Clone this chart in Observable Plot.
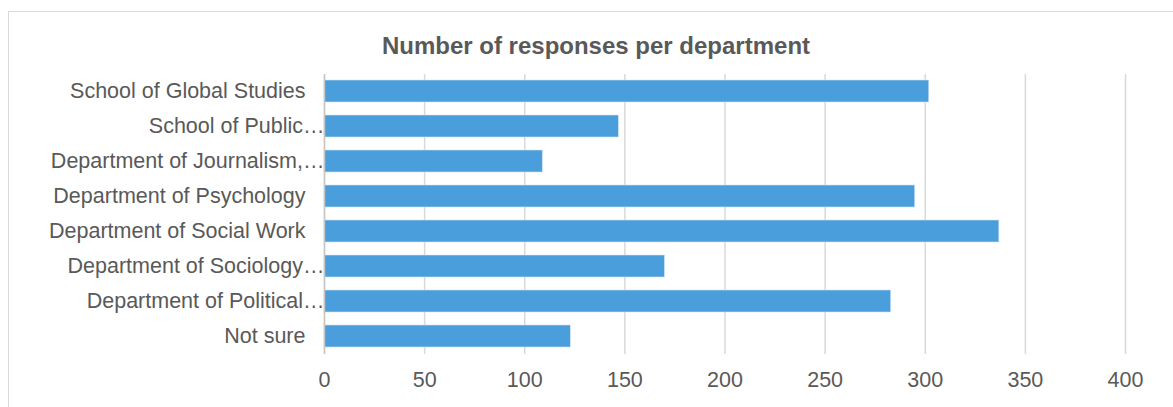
<!DOCTYPE html>
<html>
<head>
<meta charset="utf-8">
<script src="https://cdn.jsdelivr.net/npm/d3@7"></script>
<script src="https://cdn.jsdelivr.net/npm/@observablehq/plot@0.6"></script>
<style>
  html, body { margin: 0; padding: 0; background: #fff; }
  #wrap { position: relative; width: 1173px; height: 407px; overflow: hidden; font-family: "Liberation Sans", Arial, sans-serif; }
  #border { position: absolute; left: 8px; top: 11px; width: 1300px; height: 600px; border: 1px solid #d9d9d9; box-sizing: border-box; }
  #title { position: absolute; left: 0; top: 31px; width: 1192px; text-align: center; font-size: 24px; font-weight: bold; color: #595959; line-height: 29px; }
  #chart { position: absolute; left: 0; top: 0; }
</style>
</head>
<body>
<div id="wrap">
  <div id="border"></div>
  <div id="chart"></div>
  <div id="title">Number of responses per department</div>
</div>
<script>
const departments = [
  "School of Global Studies",
  "School of Public…",
  "Department of Journalism,…",
  "Department of Psychology",
  "Department of Social Work",
  "Department of Sociology…",
  "Department of Political…",
  "Not sure"
];
const responses = [302, 147, 109, 295, 337, 170, 283, 123];
const xTicks = [0, 50, 100, 150, 200, 250, 300, 350, 400];

const truncated = departments.filter(d => d.endsWith("…"));
const full = departments.filter(d => !d.endsWith("…"));
const data = departments.map((d, i) => ({department: d, responses: responses[i]}));

const chart = Plot.plot({
  width: 1173,
  height: 407,
  marginTop: 74,
  marginBottom: 53,
  marginLeft: 324,
  marginRight: 48,
  style: {fontFamily: '"Liberation Sans", Arial, sans-serif', fontSize: "21.5px", color: "#595959", background: "transparent"},
  x: {domain: [0, 400]},
  y: {domain: departments, paddingInner: 0.37, paddingOuter: 0.185},
  marks: [
    Plot.gridX(xTicks, {stroke: "#d9d9d9", strokeOpacity: 1, strokeWidth: 1.5}),
    Plot.barX(data, {x: "responses", y: "department", fill: "#4a9edb", stroke: "#cfe3f5", strokeWidth: 0.6}),
    Plot.ruleX([0], {stroke: "#c6c6c6", strokeWidth: 1.5}),
    Plot.axisX(xTicks, {tickSize: 0, tickPadding: 17, label: null, fill: "#595959", fontSize: 21.5}),
    Plot.axisY(full, {tickSize: 0, tickPadding: 19, label: null, fill: "#595959", fontSize: 21.5}),
    Plot.axisY(truncated, {tickSize: 0, tickPadding: 0, label: null, fill: "#595959", fontSize: 21.5, textOverflow: null})
  ]
});
document.getElementById("chart").appendChild(chart);
</script>
</body>
</html>
